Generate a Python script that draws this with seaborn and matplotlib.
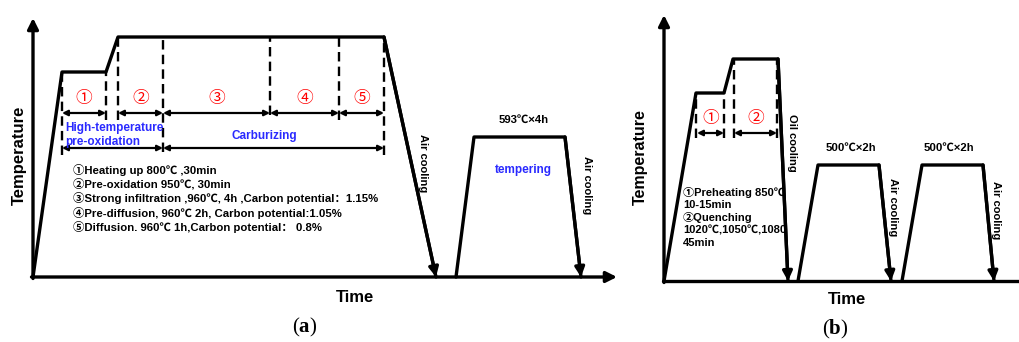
import matplotlib
matplotlib.use("Agg")
import matplotlib.pyplot as plt
import seaborn as sns
import pandas as pd

sns.set_style("white")
FAM = ["Liberation Sans", "Noto Sans CJK SC", "DejaVu Sans"]
plt.rcParams["font.family"] = FAM
plt.rcParams["text.color"] = "black"
plt.rcParams["mathtext.fontset"] = "custom"
plt.rcParams["mathtext.rm"] = "Liberation Serif"
plt.rcParams["mathtext.bf"] = "Liberation Serif:bold"

# ---------------- data: panel (a) ----------------
a_main_time = [0, 29, 73, 85, 351, 403]
a_main_temp = [0, 205, 205, 240, 240, 0]
a_temper_time = [423, 441, 532, 548]
a_temper_temp = [0, 140, 140, 0]
a_dash_time = [29, 73, 85, 130, 237, 306, 351]
a_dash_top = [205, 205, 240, 240, 240, 240, 240]
a_dash_bot = [122, 157, 157, 125, 162, 157, 122]
a_stage_start = [29, 85, 130, 237, 306]
a_stage_end = [73, 130, 237, 306, 351]
a_stage_labels = ["①", "②", "③", "④", "⑤"]
a_group_start = [29, 130]
a_group_end = [130, 351]
a_notes = ["①Heating up 800℃ ,30min",
           "②Pre-oxidation 950℃, 30min",
           "③Strong infiltration ,960℃, 4h ,Carbon potential：1.15%",
           "④Pre-diffusion, 960℃ 2h, Carbon potential:1.05%",
           "⑤Diffusion. 960℃ 1h,Carbon potential： 0.8%"]

# ---------------- data: panel (b) ----------------
b_main_time = [0, 32, 60, 69, 114, 124]
b_main_temp = [0, 188, 188, 222, 222, 0]
b_temper1_time = [134, 154, 215, 227]
b_temper2_time = [238, 258, 319, 330]
b_temper_temp = [0, 116, 116, 0]
b_dash_time = [32, 60, 70, 113]
b_dash_top = [188, 188, 222, 222]
b_dash_bot = [143, 143, 143, 143]
b_stage_start = [33, 70]
b_stage_end = [60, 113]
b_stage_labels = ["①", "②"]
b_notes = ["①Preheating 850℃", "10-15min", "②Quenching",
           "1020℃,1050℃,1080", "45min"]

W, H = 1019, 342
fig = plt.figure(figsize=(W / 100, H / 100), dpi=100)


def px_axes(x0, y0, w, h):
    ax = fig.add_axes([x0 / W, (H - y0) / H, w / W, h / H])
    ax.set_xlim(0, w)
    ax.set_ylim(0, h)
    ax.axis("off")
    return ax


LW = 2.4


def curve(ax, t, T):
    df = pd.DataFrame({"time": t, "temp": T})
    sns.lineplot(data=df, x="time", y="temp", sort=False, estimator=None,
                 color="black", lw=LW, ax=ax, clip_on=False)
    # arrowhead on the final (cooling) segment
    ax.annotate("", xy=(t[-1], T[-1]), xytext=(t[-2], T[-2]),
                arrowprops=dict(arrowstyle="-|>", color="black", lw=LW,
                                mutation_scale=14, shrinkA=0, shrinkB=0),
                annotation_clip=False)


def dbl_arrow(ax, x0, x1, y):
    ax.annotate("", xy=(x1, y), xytext=(x0, y),
                arrowprops=dict(arrowstyle="<|-|>", color="black", lw=1.6,
                                mutation_scale=8, shrinkA=0, shrinkB=0),
                annotation_clip=False)


def axes_arrows(ax, xend, yend, xarrow=True):
    ax.annotate("", xy=(0, yend), xytext=(0, -1.5),
                arrowprops=dict(arrowstyle="-|>", color="black", lw=LW,
                                mutation_scale=16, shrinkA=0, shrinkB=0),
                annotation_clip=False)
    if xarrow:
        ax.annotate("", xy=(xend, 0), xytext=(-1.5, 0),
                    arrowprops=dict(arrowstyle="-|>", color="black", lw=LW,
                                    mutation_scale=16, shrinkA=0, shrinkB=0),
                    annotation_clip=False)
    else:
        ax.plot([-1.5, xend], [0, 0], color="black", lw=LW, clip_on=False)


DASH = (0, (4.0, 2.2))
BLUE = "#2a2aff"

# ================= panel (a) =================
ax = px_axes(33, 277, 600, 277)
axes_arrows(ax, 584, 259)
curve(ax, a_main_time, a_main_temp)
curve(ax, a_temper_time, a_temper_temp)
ax.vlines(a_dash_time, a_dash_bot, a_dash_top, colors="black", lw=1.7,
          linestyles=DASH)
for s, e, lab in zip(a_stage_start, a_stage_end, a_stage_labels):
    dbl_arrow(ax, s, e, 164)
    ax.text((s + e) / 2, 179, lab, color="red", fontsize=12,
            ha="center", va="center")
for s, e in zip(a_group_start, a_group_end):
    dbl_arrow(ax, s, e, 129)
ax.text(32, 149, "High-temperature", color=BLUE, fontsize=8.5,
        fontweight="bold", ha="left", va="center")
ax.text(32, 135, "pre-oxidation", color=BLUE, fontsize=8.5,
        fontweight="bold", ha="left", va="center")
ax.text(231, 141, "Carburizing", color=BLUE, fontsize=8.5,
        fontweight="bold", ha="center", va="center")
for i, line in enumerate(a_notes):
    ax.text(40, 107 - i * 14.2, line, fontsize=8.2, fontweight="bold",
            ha="left", va="center")
ax.text(-14, 122, "Temperature", rotation=90, fontsize=12,
        fontweight="bold", ha="center", va="center")
ax.text(322, -20, "Time", fontsize=12, fontweight="bold",
        ha="center", va="center")
ax.text(390, 114, "Air cooling", rotation=-90, fontsize=8,
        fontweight="bold", ha="center", va="center")
ax.text(554, 92, "Air cooling", rotation=-90, fontsize=8,
        fontweight="bold", ha="center", va="center")
ax.text(491, 157, "593℃×4h", fontsize=8.2, fontweight="bold",
        ha="center", va="center")
ax.text(490, 107, "tempering", color=BLUE, fontsize=8.5,
        fontweight="bold", ha="center", va="center")

# ================= panel (b) =================
bx = px_axes(664, 281, 355, 281)
axes_arrows(bx, 355, 266, xarrow=False)
curve(bx, b_main_time, b_main_temp)
curve(bx, b_temper1_time, b_temper_temp)
curve(bx, b_temper2_time, b_temper_temp)
bx.vlines(b_dash_time, b_dash_bot, b_dash_top, colors="black", lw=1.7,
          linestyles=DASH)
for s, e, lab in zip(b_stage_start, b_stage_end, b_stage_labels):
    dbl_arrow(bx, s, e, 148)
    bx.text((s + e) / 2, 162, lab, color="red", fontsize=12,
            ha="center", va="center")
for i, line in enumerate(b_notes):
    bx.text(19, 89 - i * 12.8, line, fontsize=8, fontweight="bold",
            ha="left", va="center")
bx.text(-24, 124, "Temperature", rotation=90, fontsize=11.5,
        fontweight="bold", ha="center", va="center")
bx.text(183, -19, "Time", fontsize=12, fontweight="bold",
        ha="center", va="center")
bx.text(128, 138, "Oil cooling", rotation=-90, fontsize=8,
        fontweight="bold", ha="center", va="center")
bx.text(187, 133, "500℃×2h", fontsize=8.2, fontweight="bold",
        ha="center", va="center")
bx.text(285, 133, "500℃×2h", fontsize=8.2, fontweight="bold",
        ha="center", va="center")
bx.text(229, 74, "Air cooling", rotation=-90, fontsize=8,
        fontweight="bold", ha="center", va="center")
bx.text(332, 71, "Air cooling", rotation=-90, fontsize=8,
        fontweight="bold", ha="center", va="center")

# captions
fig.text(305 / W, 1 - 327 / H, r"($\mathbf{a}$)", fontsize=15,
         family="Liberation Serif", ha="center", va="center")
fig.text(835 / W, 1 - 329 / H, r"($\mathbf{b}$)", fontsize=15,
         family="Liberation Serif", ha="center", va="center")

fig.savefig("out.png", dpi=100, facecolor="white")
